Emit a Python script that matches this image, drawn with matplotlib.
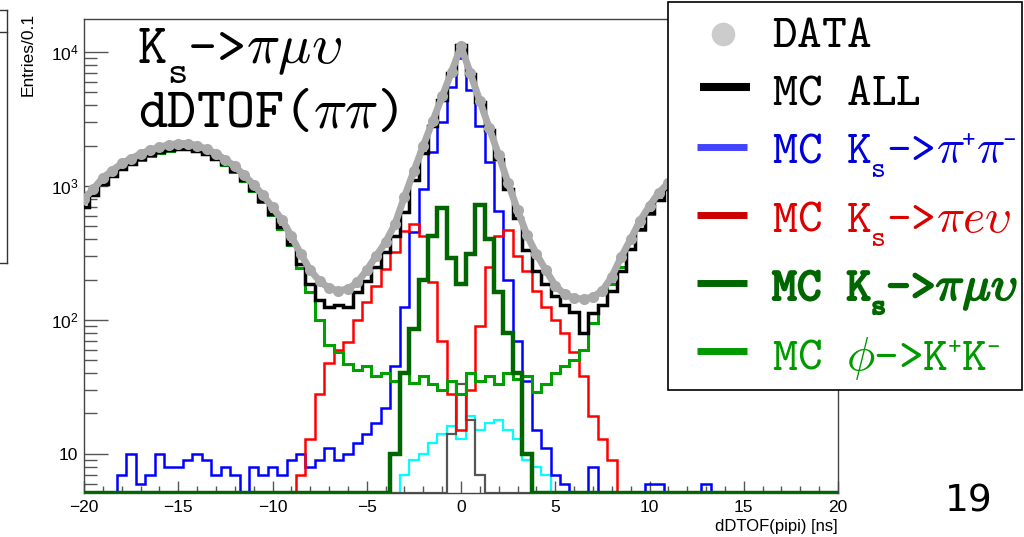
import numpy as np
import matplotlib
matplotlib.use('Agg')
import matplotlib.pyplot as plt
import matplotlib.patheffects as pe
from matplotlib.patches import Rectangle
from matplotlib.lines import Line2D
from matplotlib.ticker import FixedLocator, FixedFormatter, NullFormatter, MultipleLocator, LogLocator

plt.rcParams['font.family'] = ['Liberation Sans', 'DejaVu Sans']
plt.rcParams['mathtext.fontset'] = 'cm'

# ---------------- data (entries per bin, bin centres every 0.5 ns) ----------------
bin_centers = np.linspace(-20, 20, 81)

data_counts = [
    800, 950, 1150, 1300, 1470, 1600, 1730, 1850, 1950, 2020,
    2070, 2070, 2000, 1880, 1740, 1570, 1400, 1200, 1020, 850,
    690, 560, 420, 310, 235, 195, 172, 165, 170, 190,
    235, 300, 380, 520, 830, 1290, 2000, 3040, 4650, 7100,
    11000, 6900, 4300, 2700, 1700, 1050, 660, 430, 310, 235,
    180, 155, 145, 143, 148, 165, 210, 295, 400, 550,
    710, 890, 1050, 1220, 1390, 1560, 1710, 1850, 1960, 2040,
    2070, 2050, 1990, 1880, 1750, 1600, 1450, 1300, 1130, 960,
    800]

mc_all = [
    700, 860, 1040, 1190, 1340, 1460, 1580, 1690, 1780, 1840,
    1880, 1880, 1830, 1730, 1600, 1450, 1290, 1100, 930, 770,
    620, 490, 370, 260, 185, 140, 125, 130, 125, 160,
    195, 250, 320, 420, 640, 1100, 1750, 2800, 4400, 7000,
    11300, 6800, 4200, 2600, 1600, 950, 580, 330, 230, 185,
    150, 130, 115, 80, 112, 130, 165, 230, 340, 480,
    630, 790, 950, 1100, 1260, 1410, 1550, 1680, 1780, 1840,
    1870, 1860, 1810, 1710, 1590, 1450, 1310, 1170, 1020, 870,
    710]

mc_pipi = [
    0, 0, 0, 0, 7, 10, 6, 7, 10, 8,
    8, 9, 10, 9, 7, 8, 7, 0, 8, 7,
    8, 7, 9, 10, 8, 9, 11, 9, 10, 12,
    14, 17, 22, 45, 125, 450, 950, 1800, 3000, 5500,
    9000, 5200, 2800, 1500, 650, 200, 70, 35, 15, 11,
    7, 6, 0, 0, 8, 0, 0, 0, 0, 0,
    6, 6, 0, 0, 0, 0, 6, 0, 0, 0,
    0, 0, 0, 0, 0, 0, 0, 0, 0, 0,
    0]

mc_pienu = [
    0, 0, 0, 0, 0, 0, 0, 0, 0, 0,
    0, 0, 0, 0, 0, 0, 0, 0, 0, 0,
    0, 0, 0, 7, 13, 28, 48, 60, 68, 100,
    135, 180, 240, 320, 460, 520, 420, 190, 70, 28,
    15, 30, 90, 250, 420, 470, 300, 230, 165, 125,
    100, 80, 58, 38, 19, 13, 9, 0, 0, 0,
    0, 0, 0, 0, 0, 0, 0, 0, 0, 0,
    0, 0, 0, 0, 0, 0, 0, 0, 0, 0,
    0]

mc_pimunu = [
    0, 0, 0, 0, 0, 0, 0, 0, 0, 0,
    0, 0, 0, 0, 0, 0, 0, 0, 0, 0,
    0, 0, 0, 0, 0, 0, 0, 0, 0, 0,
    0, 0, 0, 10, 40, 85, 200, 420, 680, 290,
    185, 310, 720, 400, 160, 80, 40, 10, 0, 0,
    0, 0, 0, 0, 0, 0, 0, 0, 0, 0,
    0, 0, 0, 0, 0, 0, 0, 0, 0, 0,
    0, 0, 0, 0, 0, 0, 0, 0, 0, 0,
    0]

mc_phikk = [
    690, 850, 1030, 1180, 1330, 1450, 1570, 1680, 1770, 1830,
    1870, 1870, 1820, 1720, 1590, 1440, 1280, 1095, 920, 760,
    610, 480, 360, 245, 160, 100, 65, 58, 47, 42,
    45, 38, 40, 35, 41, 34, 38, 33, 30, 35,
    28, 40, 35, 38, 33, 40, 36, 38, 29, 33,
    40, 45, 50, 60, 95, 130, 185, 250, 340, 470,
    620, 780, 940, 1090, 1250, 1400, 1540, 1670, 1770, 1830,
    1860, 1850, 1800, 1700, 1580, 1440, 1300, 1160, 1010, 860,
    700]

mc_other1 = [  # cyan
    0, 0, 0, 0, 0, 0, 0, 0, 0, 0,
    0, 0, 0, 0, 0, 0, 0, 0, 0, 0,
    0, 0, 0, 0, 0, 0, 0, 0, 0, 0,
    0, 0, 0, 0, 7, 9, 10, 12, 14, 16,
    13, 19, 15, 17, 18, 15, 13, 9, 8, 7,
    0, 0, 0, 0, 0, 0, 0, 0, 0, 0,
    0, 0, 0, 0, 0, 0, 0, 0, 0, 0,
    0, 0, 0, 0, 0, 0, 0, 0, 0, 0,
    0]

mc_other2 = [  # dark grey
    0, 0, 0, 0, 0, 0, 0, 0, 0, 0,
    0, 0, 0, 0, 0, 0, 0, 0, 0, 0,
    0, 0, 0, 0, 0, 0, 0, 0, 0, 0,
    0, 0, 0, 0, 0, 0, 0, 0, 0, 14,
    33, 18, 7, 0, 0, 0, 0, 0, 0, 0,
    0, 0, 0, 0, 0, 0, 0, 0, 0, 0,
    0, 0, 0, 0, 0, 0, 0, 0, 0, 0,
    0, 0, 0, 0, 0, 0, 0, 0, 0, 0,
    0]

x_ticks = [-20, -15, -10, -5, 0, 5, 10, 15, 20]
y_ticks = [10, 100, 1000, 10000]
y_ticklabels = ['10', r'$\mathdefault{10^{2}}$', r'$\mathdefault{10^{3}}$', r'$\mathdefault{10^{4}}$']

# ---------------- figure ----------------
W, H = 1024, 537
fig = plt.figure(figsize=(W / 100, H / 100), dpi=100)
ax = fig.add_axes([84 / W, 1 - 493 / H, (838 - 84) / W, (493 - 19) / H])

ymin, ymax = 5.1, 17600
edges = np.append(bin_centers - 0.25, bin_centers[-1] + 0.25)


def hist(vals, color, lw, z):
    v = np.clip(np.asarray(vals, dtype=float), ymin, None)
    ax.stairs(v, edges, color=color, lw=lw, zorder=z, baseline=None)


hist(mc_other1, '#00ffff', 1.6, 2)
hist(mc_other2, '#555555', 1.6, 2.1)
hist(mc_pipi, '#0000ff', 1.8, 3)
hist(mc_pienu, '#ff0000', 1.8, 3.1)
hist(mc_phikk, '#00a000', 2.2, 3.2)
hist(mc_pimunu, '#006600', 3.2, 3.3)
hist(mc_all, '#000000', 2.5, 4)
ax.plot(bin_centers, data_counts, color='#aaaaaa', lw=5, marker='o', ms=8,
        markeredgewidth=0, zorder=5)

ax.set_xlim(-20, 20)
ax.set_yscale('log')
ax.set_ylim(ymin, ymax)

ax.xaxis.set_major_locator(FixedLocator(x_ticks))
ax.xaxis.set_minor_locator(MultipleLocator(1))
ax.yaxis.set_major_locator(FixedLocator(y_ticks))
ax.yaxis.set_major_formatter(FixedFormatter(y_ticklabels))
ax.yaxis.set_minor_locator(LogLocator(base=10, subs=np.arange(2, 10)))
ax.yaxis.set_minor_formatter(NullFormatter())

ax.tick_params(axis='x', which='major', direction='in', length=9, width=1,
               color='#555555', labelsize=12.5, pad=5, top=False)
ax.tick_params(axis='x', which='minor', direction='in', length=5, width=1,
               color='#555555', top=False)
ax.tick_params(axis='y', which='major', direction='in', length=17, width=1,
               color='#555555', labelsize=12.5, pad=4, right=False)
ax.tick_params(axis='y', which='minor', direction='in', length=9, width=1,
               color='#555555', right=False)
for s in ax.spines.values():
    s.set_color('#444444')
    s.set_linewidth(1)

# axis labels
fig.text(28 / W, 1 - 54 / H, 'Entries/0.1', rotation=90, ha='center', va='center', fontsize=12.5)
fig.text(838 / W, 1 - 526 / H, 'dDTOF(pipi) [ns]', ha='right', va='center', fontsize=12)

renderer = fig.canvas.get_renderer()
TT = 'cmtt10'


def runs(x0, y0, pieces, size, color, bold=False):
    """pieces: (text, scale, dy_px, kind) ; kind 'tt' = typewriter cells, 'm' = mathtext."""
    x = x0
    effects = [pe.withStroke(linewidth=1.4, foreground=color)] if bold else None
    for txt, scale, dy, kind in pieces:
        fs = size * scale
        yy = 1 - (y0 + dy) / H
        if kind == 'tt':
            cell = 0.525 * fs * 100 / 72
            for ch in txt:
                if ch != ' ':
                    t = fig.text(x / W, yy, ch, fontsize=fs, color=color, family=TT,
                                 ha='left', va='baseline', zorder=12)
                    if effects:
                        t.set_path_effects(effects)
                x += cell
        else:
            t = fig.text(x / W, yy, txt, fontsize=fs, color=color,
                         ha='left', va='baseline', zorder=12)
            if effects:
                t.set_path_effects(effects)
            x += t.get_window_extent(renderer=renderer).width - 2


# in-plot title
TS = 40
runs(138, 63, [('K', 1, 0, 'tt'), ('s', 0.7, 20, 'tt'), ('->', 1, 0, 'tt'),
               (r'$\pi\mu\upsilon$', 1, 0, 'm')], TS, 'black')
runs(138, 127, [('dDTOF(', 1, 0, 'tt'), (r'$\pi\pi$', 1, 0, 'm'), (')', 1, 0, 'tt')], TS, 'black')

# legend
fig.add_artist(Rectangle((668 / W, 1 - 390 / H), (1022 - 668) / W, (390 - 2) / H,
                         transform=fig.transFigure, facecolor='white', edgecolor='black',
                         lw=1.2, zorder=10))


def leg_line(y, color, lw, x1=697, x2=747):
    fig.add_artist(Line2D([x1 / W, x2 / W], [1 - y / H, 1 - y / H], transform=fig.transFigure,
                          color=color, lw=lw, zorder=11, solid_capstyle='butt'))


fig.add_artist(Line2D([723 / W], [1 - 34 / H], transform=fig.transFigure, marker='o', ms=17,
                      color='#cccccc', markeredgewidth=0, lw=0, zorder=11))
leg_line(87, 'black', 5.8, 700, 750)
leg_line(147, '#4444ff', 5)
leg_line(215, '#cc0000', 5)
leg_line(283, '#006600', 5)
leg_line(351, '#009900', 5)

LX = 772
LS = 34
runs(LX, 47, [('DATA', 1, 0, 'tt')], LS, 'black')
runs(LX, 105, [('MC ALL', 1, 0, 'tt')], LS, 'black')
runs(LX, 163, [('MC K', 1, 0, 'tt'), ('s', 0.6, 14, 'tt'), ('->', 1, 0, 'tt'), (r'$\pi$', 1, 0, 'm'),
               ('+', 0.55, -16, 'tt'), (r'$\pi$', 1, 0, 'm'), ('-', 0.55, -16, 'tt')], LS, '#0000dd')
runs(LX, 232, [('MC K', 1, 0, 'tt'), ('s', 0.6, 14, 'tt'), ('->', 1, 0, 'tt'),
               (r'$\pi e\upsilon$', 1, 0, 'm')], LS, '#dd0000')
runs(LX, 300, [('MC K', 1, 0, 'tt'), ('s', 0.6, 14, 'tt'), ('->', 1, 0, 'tt'),
               (r'$\pi\mu\upsilon$', 1, 0, 'm')], LS, '#006600', bold=True)
runs(LX, 370, [('MC ', 1, 0, 'tt'), (r'$\phi$', 1, 0, 'm'), ('->K', 1, 0, 'tt'), ('+', 0.55, -16, 'tt'),
               ('K', 1, 0, 'tt'), ('-', 0.55, -16, 'tt')], LS, '#009900')

# page number
fig.text(969 / W, 1 - 502 / H, '19', fontsize=27, family='DejaVu Sans', ha='center', va='center')

# clipped frame of neighbouring panel at the left edge
for xs, ys in [([0, 7], [10, 10]), ([0, 7], [32, 32]), ([0, 7], [263, 263]), ([7, 7], [10, 263])]:
    fig.add_artist(Line2D([x / W for x in xs], [1 - y / H for y in ys], transform=fig.transFigure,
                          color='#333333', lw=1))

fig.savefig('out.png', dpi=100)
